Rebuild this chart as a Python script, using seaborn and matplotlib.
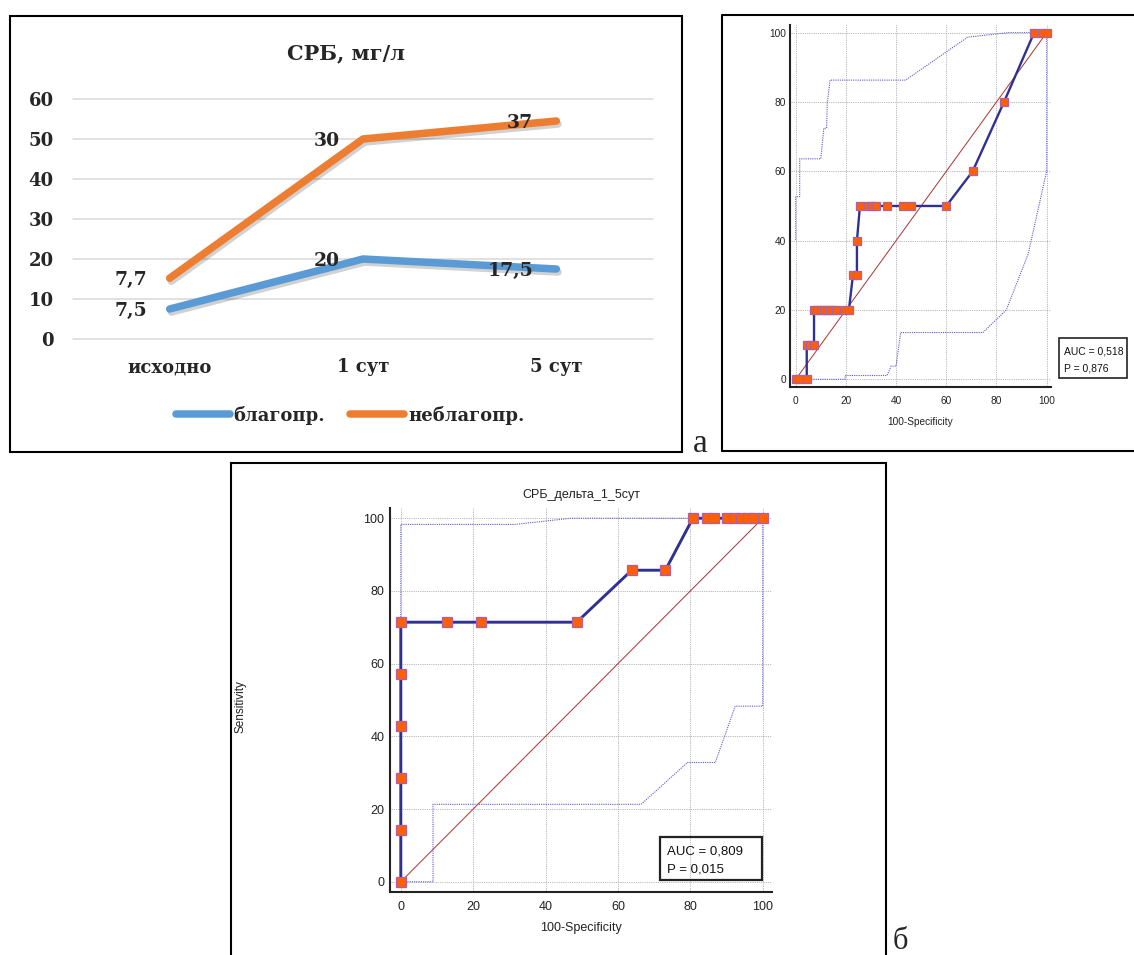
import numpy as np
import pandas as pd
import matplotlib
matplotlib.use("Agg")
import matplotlib.pyplot as plt
import matplotlib.patheffects as pe
from matplotlib.lines import Line2D
from matplotlib.patches import Rectangle
from matplotlib.ticker import MultipleLocator
import seaborn as sns

# ---------------- data ----------------
# CRP dynamics, stacked line chart (mg/l)
days = ["исходно", "1 сут", "5 сут"]
crp_good = [7.5, 20, 17.5]      # благопр.
crp_bad = [7.7, 30, 37]         # неблагопр.
crp_series = ["благопр.", "неблагопр."]
crp_yticks = [0, 10, 20, 30, 40, 50, 60]

# ROC curve for CRP (panel а, right)
roc_a_fpr = [0, 1.3, 4.4, 4.4, 5.8, 7.3, 7.3, 8.6, 9.9, 11.2, 12.4, 13.7, 15.0, 16.2,
             19.6, 21.2, 22.8, 24.4, 24.4, 25.6, 28.8, 30.4, 32.0, 36.5, 42.8, 45.8,
             60.0, 70.5, 83.0, 95.0, 98.3, 100]
roc_a_sens = [0, 0, 0, 10, 10, 10, 20, 20, 20, 20, 20, 20, 20, 20,
              20, 20, 30, 30, 40, 50, 50, 50, 50, 50, 50, 50,
              50, 60, 80, 100, 100, 100]
roc_a_up_x = [0, 0, 1.6, 1.6, 10.0, 11.2, 12.3, 12.6, 13.7, 43.8, 68.5, 84.6, 100]
roc_a_up_y = [40.2, 52.7, 52.7, 63.6, 63.6, 72.4, 72.4, 79.8, 86.3, 86.3, 98.7, 100, 100]
roc_a_lo_x = [0, 19.7, 19.7, 36.4, 38.0, 40.0, 41.8, 74.6, 83.9, 92.6, 100, 100]
roc_a_lo_y = [0, 0, 1.1, 1.1, 3.8, 3.8, 13.5, 13.5, 20.0, 36.1, 60.1, 100]
auc_a, p_a = "0,518", "0,876"

# ROC curve for СРБ_дельта_1_5сут (panel б)
roc_b_title = "СРБ_дельта_1_5сут"
roc_b_fpr = [0, 0, 0, 0, 0, 0, 12.7, 22.1, 48.6, 63.8, 73.1,
             80.7, 84.6, 86.4, 90.1, 92.1, 93.9, 95.8, 97.7, 100]
roc_b_sens = [0, 14.3, 28.6, 42.9, 57.1, 71.4, 71.4, 71.4, 71.4, 85.7, 85.7,
              100, 100, 100, 100, 100, 100, 100, 100, 100]
roc_b_up_x = [0, 0, 31.5, 47.0, 100]
roc_b_up_y = [0, 98.3, 98.3, 100, 100]
roc_b_lo_x = [0, 8.9, 8.9, 66.4, 79.2, 86.9, 92.4, 100, 100]
roc_b_lo_y = [0, 0, 21.3, 21.3, 32.8, 32.8, 48.3, 48.3, 100]
auc_b, p_b = "0,809", "0,015"

# ---------------- styling ----------------
sns.set_style("white")
plt.rcParams["font.family"] = ["Liberation Sans", "DejaVu Sans"]

W, H = 1134, 955
fig = plt.figure(figsize=(W / 100, H / 100), dpi=100)


def fx(x):
    return x / W


def fy(y):
    return 1 - y / H


def add_ax(x0, y0, x1, y1):
    return fig.add_axes([fx(x0), fy(y1), (x1 - x0) / W, (y1 - y0) / H])


def frame(x0, y0, x1, y1, lw=1.5, ec="black"):
    fig.add_artist(Rectangle((fx(x0), fy(y1)), (x1 - x0) / W, (y1 - y0) / H,
                             transform=fig.transFigure, fill=False,
                             edgecolor=ec, lw=lw, clip_on=False))


SERIF = dict(family=["DejaVu Serif"], weight="bold")
BLUE, ORANGE = "#5B9BD5", "#ED7D31"

# ---------------- panel а: CRP dynamics ----------------
frame(10, 16, 682, 452)
ax1 = add_ax(73, 99, 653, 339)
stacked_bad = [g + b for g, b in zip(crp_good, crp_bad)]
df = pd.DataFrame({
    "day": days * 2,
    "value": list(crp_good) + stacked_bad,
    "series": [crp_series[0]] * 3 + [crp_series[1]] * 3,
})
sns.lineplot(data=df, x="day", y="value", hue="series", palette=[BLUE, ORANGE],
             linewidth=5.4, sort=False, legend=False, ax=ax1)
shadow = [pe.SimpleLineShadow(offset=(1.2, -2.2), shadow_color="black", alpha=0.18),
          pe.Normal()]
for ln in ax1.lines:
    ln.set_solid_capstyle("round")
    ln.set_solid_joinstyle("round")
    ln.set_path_effects(shadow)
    ln.set_clip_on(False)

ax1.set_xlim(-0.5, 2.5)
ax1.set_ylim(0, 60)
ax1.set_yticks(crp_yticks)
ax1.set_xlabel("")
ax1.set_ylabel("")
for s in ax1.spines.values():
    s.set_visible(False)
ax1.grid(axis="y", color="#D9D9D9", lw=1.1)
ax1.grid(axis="x", visible=False)
for gl in ax1.get_ygridlines():
    gl.set_clip_on(False)
ax1.set_axisbelow(True)
ax1.tick_params(axis="y", length=0, pad=14)
ax1.tick_params(axis="x", length=0, pad=14)
plt.setp(ax1.get_yticklabels(), fontsize=13, **SERIF)
plt.setp(ax1.get_xticklabels(), fontsize=13, **SERIF)


def fmt(v):
    return f"{v:g}".replace(".", ",")


for i in range(3):
    ax1.annotate(fmt(crp_good[i]), xy=(i, crp_good[i]), xytext=(-23, -2),
                 textcoords="offset pixels", ha="right", va="center",
                 fontsize=13.5, **SERIF)
    ax1.annotate(fmt(crp_bad[i]), xy=(i, stacked_bad[i]), xytext=(-23, -2),
                 textcoords="offset pixels", ha="right", va="center",
                 fontsize=13.5, **SERIF)

fig.text(fx(346), fy(53), "СРБ, мг/л", ha="center", va="center", fontsize=15, **SERIF)

handles = [Line2D([], [], color=BLUE, lw=5.4, solid_capstyle="round"),
           Line2D([], [], color=ORANGE, lw=5.4, solid_capstyle="round")]
fig.legend(handles, crp_series, loc="center", bbox_to_anchor=(fx(350), fy(415)),
           ncol=2, frameon=False, handlelength=3.0, handletextpad=0.2,
           columnspacing=1.4, prop=dict(size=13, **SERIF))

fig.text(fx(693), fy(452), "а", ha="left", va="baseline", fontsize=24,
         family=["Liberation Serif"])

# ---------------- ROC helper ----------------
NAVY = "#2E3192"
MARK_FC, MARK_EC = "#FF5F00", "#B05FA0"
BAND = "#5A5AD0"
GRID = "#A0A0A0"
DIAG = "#A83232"


def draw_roc(ax, fpr, sens, up_x, up_y, lo_x, lo_y, xlim, ylim,
             lw, ms, tick_fs, maj_len, min_len, xpad, ypad):
    ax.set_xlim(*xlim)
    ax.set_ylim(*ylim)
    ax.xaxis.set_major_locator(MultipleLocator(20))
    ax.yaxis.set_major_locator(MultipleLocator(20))
    ax.xaxis.set_minor_locator(MultipleLocator(5))
    ax.yaxis.set_minor_locator(MultipleLocator(5))
    ax.grid(True, which="major", color=GRID, lw=0.6, linestyle=(0, (1, 1.2)))
    ax.set_axisbelow(True)
    for side in ("top", "right"):
        ax.spines[side].set_visible(False)
    for side in ("left", "bottom"):
        ax.spines[side].set_color("#222222")
        ax.spines[side].set_linewidth(1.5)
    ax.tick_params(which="major", direction="in", length=maj_len, width=1.2,
                   color="#222222", labelsize=tick_fs, labelcolor="#222222")
    ax.tick_params(which="minor", direction="in", length=min_len, width=0.8,
                   color="#222222")
    ax.tick_params(axis="x", which="major", pad=xpad)
    ax.tick_params(axis="y", which="major", pad=ypad)

    sns.lineplot(x=up_x, y=up_y, sort=False, estimator=None, color=BAND, lw=0.8, ax=ax)
    sns.lineplot(x=lo_x, y=lo_y, sort=False, estimator=None, color=BAND, lw=0.8, ax=ax)
    for ln in ax.lines:
        ln.set_linestyle((0, (1, 1)))
    sns.lineplot(x=[0, 100], y=[0, 100], sort=False, estimator=None, color=DIAG,
                 lw=0.7, ax=ax)
    sns.lineplot(x=fpr, y=sens, sort=False, estimator=None, color=NAVY, lw=lw,
                 marker="s", markersize=ms, markerfacecolor=MARK_FC,
                 markeredgecolor=MARK_EC, markeredgewidth=0.9, ax=ax)
    ax.lines[-1].set_clip_on(False)
    ax.set_xlabel("")
    ax.set_ylabel("")


def stat_box(x0, y0, x1, y1, auc, p, fs, lw):
    frame(x0, y0, x1, y1, lw=lw, ec="#222222")
    h = y1 - y0
    fig.text(fx(x0 + (x1 - x0) * 0.07), fy(y0 + h * 0.33), f"AUC = {auc}",
             ha="left", va="center", fontsize=fs, color="#111111")
    fig.text(fx(x0 + (x1 - x0) * 0.07), fy(y0 + h * 0.76), f"P = {p}",
             ha="left", va="center", fontsize=fs, color="#111111")


# ---------------- panel а: ROC ----------------
fig.add_artist(Line2D([fx(722), fx(722), fx(1140)], [fy(451), fy(15), fy(15)],
                      transform=fig.transFigure, color="black", lw=1.5))
fig.add_artist(Line2D([fx(722), fx(1140)], [fy(451), fy(451)],
                      transform=fig.transFigure, color="black", lw=1.5))
ax2 = add_ax(790, 25, 1050.7, 387.3)
draw_roc(ax2, roc_a_fpr, roc_a_sens, roc_a_up_x, roc_a_up_y, roc_a_lo_x, roc_a_lo_y,
         xlim=(-2.27, 101.6), ylim=(-2.3, 102.2), lw=1.7, ms=5.2, tick_fs=7.3,
         maj_len=4.3, min_len=2.4, xpad=6.0, ypad=3.0)
fig.text(fx(920), fy(421.7), "100-Specificity", ha="center", va="center",
         fontsize=7.3, color="#222222")
stat_box(1059, 338, 1127, 378, auc_a, p_a, fs=7.5, lw=1.2)

# ---------------- panel б: ROC ----------------
frame(231, 463.5, 886, 965)
ax3 = add_ax(389.8, 507.7, 772.5, 892.3)
draw_roc(ax3, roc_b_fpr, roc_b_sens, roc_b_up_x, roc_b_up_y, roc_b_lo_x, roc_b_lo_y,
         xlim=(-3.04, 102.7), ylim=(-2.9, 102.9), lw=2.1, ms=6.6, tick_fs=9,
         maj_len=7, min_len=3.6, xpad=6.5, ypad=4.0)
fig.text(fx(581), fy(495), roc_b_title, ha="center", va="center", fontsize=9,
         color="#222222")
fig.text(fx(581), fy(928.3), "100-Specificity", ha="center", va="center",
         fontsize=9, color="#222222")
fig.text(fx(240.6), fy(706.7), "Sensitivity", ha="center", va="center",
         rotation=90, fontsize=8.5, color="#222222")
stat_box(660.4, 837.3, 761.5, 880, auc_b, p_b, fs=9.5, lw=1.6)

fig.text(fx(893), fy(949), "б", ha="left", va="baseline", fontsize=22,
         family=["Liberation Serif"])

fig.savefig("out.png", dpi=100, facecolor="white")
